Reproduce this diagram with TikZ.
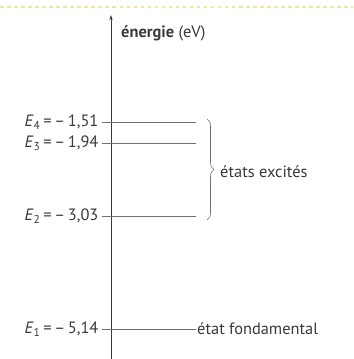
\documentclass[tikz,border=0pt]{standalone}
\usepackage{fontspec}
\setmainfont{PT Sans}
\usepackage{tikz}
\usetikzlibrary{positioning, decorations.pathreplacing, arrows.meta}
\definecolor{inkgray}{HTML}{3A3A3A}
\definecolor{levelgray}{HTML}{707070}
\definecolor{edgeyellow}{HTML}{EFE79A}

\begin{document}
\begin{tikzpicture}[
  x=0.03cm, y=0.03cm,
  txt/.style={font=\fontsize{14}{17}\selectfont, text=inkgray, inner sep=0pt},
  levelline/.style={draw=levelgray, line width=0.5pt},
  tickmark/.style={draw=levelgray, line width=0.4pt},
  axisline/.style={draw=inkgray, line width=0.6pt, -{Stealth[length=4.5pt, width=2.8pt]}},
  bracket/.style={draw=levelgray, line width=0.5pt, decorate, decoration={brace, amplitude=6pt}},
]

  % frame of the picture
  \useasboundingbox (0,0) rectangle (353,359);
  \fill[white] (0,0) rectangle (353,359);
  \draw[edgeyellow, dashed, line width=1pt] (0,352) -- (353,352);

  % energy axis
  \coordinate (axisbot) at (111,0);
  \coordinate (axistop) at (111,344);
  \draw [axisline] (axisbot) -- (axistop);
  \node (axislabel) [txt, anchor=west] at (121,326) {\textbf{énergie} (eV)};

  % energy levels
  \foreach \n/\y/\val in {4/237/{1,51}, 3/216/{1,94}, 2/143/{3,03}, 1/30/{5,14}} {
    \coordinate (lev\n) at (111,\y);
    \coordinate (end\n) at (196,\y);
    \coordinate (tick\n) at ([xshift=-8]lev\n);
    \node (name\n) [txt, anchor=east, left=3 of tick\n] {\textit{E}\textsubscript{\n}\,=\,–\,\val};
    \draw [tickmark] (tick\n) -- (lev\n);
    \draw [levelline] (lev\n) -- (end\n);
  }

  % labels on the right
  \coordinate (bracetop) at (207,240);
  \coordinate (bracebot) at (207,139);
  \draw [bracket] (bracetop) -- (bracebot);
  \node (excited) [txt, anchor=west] at (220,187) {états excités};
  \node (ground) [txt, right=1 of end1] {état fondamental};

\end{tikzpicture}
\end{document}
